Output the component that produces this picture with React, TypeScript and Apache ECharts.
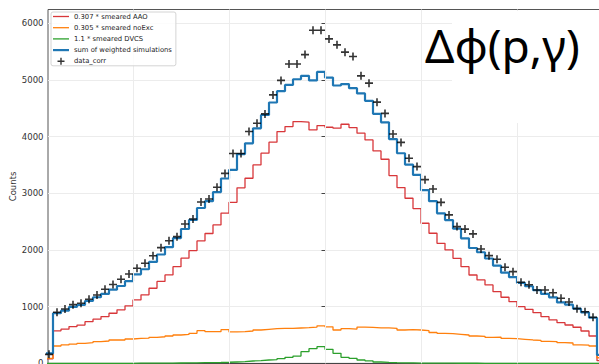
import React, { useEffect, useRef } from "react";
import * as echarts from "echarts";

// Histogram bins: bin k spans [BIN_START + k, BIN_START + k + 1] (one unit = one bin)
const BIN_START = -35;

// 0.307 * smeared AAO
const aao = [
  80, 575, 603, 650, 676, 735, 780, 826, 884, 945, 1015, 1120, 1210, 1325, 1445, 1560, 1705, 1855,
  1990, 2160, 2290, 2442, 2650, 2840, 3095, 3265, 3500, 3706, 3900, 4088, 4176, 4264, 4253, 4117,
  4193, 4164, 4147, 4217, 4158, 4059, 3941, 3747, 3600, 3311, 3100, 2912, 2730, 2471, 2295, 2118,
  2000, 1853, 1706, 1559, 1471, 1383, 1265, 1166, 1088, 1000, 954, 895, 824, 766, 718, 677, 637,
  571, 483, 48,
];

// 0.305 * smeared noExc
const noExc = [
  90, 307, 325, 340, 354, 365, 383, 395, 413, 413, 430, 442, 445, 460, 470, 483, 501, 510, 531, 577,
  560, 560, 595, 555, 560, 571, 589, 601, 612, 618, 618, 624, 630, 640, 662, 645, 589, 612, 605, 640,
  635, 628, 625, 618, 589, 595, 589, 577, 545, 531, 525, 513, 501, 483, 478, 460, 465, 442, 436, 425,
  413, 405, 390, 385, 366, 360, 325, 322, 307, 100,
];

// 1.1 * smeared DVCS
const dvcs = [
  0, 2, 2, 2, 2, 2, 2, 2, 2, 2, 2, 4, 4, 5, 5, 6, 7, 8, 10, 12, 14, 16, 20, 25, 30, 42, 50, 60, 65,
  83, 107, 130, 207, 260, 295, 248, 178, 107, 90, 60, 45, 25, 18, 12, 10, 8, 6, 5, 5, 4, 4, 3, 3, 3,
  2, 2, 2, 2, 2, 2, 2, 2, 2, 2, 2, 2, 2, 2, 2, 0,
];

// sum of weighted simulations
const weightedSum = [
  175, 884, 930, 995, 1030, 1100, 1166, 1225, 1300, 1365, 1450, 1570, 1660, 1790, 1920, 2050, 2210,
  2370, 2530, 2740, 2860, 3020, 3260, 3411, 3690, 3880, 4145, 4380, 4600, 4800, 4910, 5010, 5070,
  4990, 5140, 5040, 4900, 4925, 4852, 4760, 4630, 4400, 4250, 3955, 3705, 3505, 3323, 3055, 2860,
  2647, 2528, 2375, 2206, 2035, 1960, 1850, 1725, 1600, 1520, 1420, 1360, 1290, 1225, 1165, 1075,
  1035, 965, 900, 805, 150,
];

// data_corr (bin contents)
const dataCorr: (number | null)[] = [
  160, 901, 960, 1036, 1060, 1131, 1207, 1307, 1390, 1483, 1575, 1677, 1766, 1897, 2041, 2162, 2235,
  2459, 2545, 2845, 2900, 3106, 3350, 3700, 3700, 4090, 4235, 4399, 4734, 4990, 5280, 5280, 5445,
  5875, 5875, 5722, 5617, 5488, 5410, 5070, 4941, 4606, 4408, 4045, 3897, 3618, 3470, 3240, 3076,
  2840, 2618, 2412, 2368, 2283, 2018, 1900, 1836, 1695, 1618, 1431, 1388, 1295, 1295, 1247, 1148,
  1083, 965, 912, 813, null,
];

const seriesNames = [
  "0.307 * smeared AAO",
  "0.305 * smeared noExc",
  "1.1 * smeared DVCS",
  "sum of weighted simulations",
  "data_corr",
];

const yTicks = [0, 1000, 2000, 3000, 4000, 5000, 6000];
const xGridLines = [-24, -12, 0, 12, 24];
const annotation = "Δφ(p,γ)";

const COLORS = {
  aao: "#d8373a",
  noExc: "#ff800e",
  dvcs: "#2ca02c",
  sum: "#1f77b4",
  data: "#000000",
};

const PLUS = "path://M-4,-0.8H4V0.8H-4Z M-0.8,-4H0.8V4H-0.8Z";
const thinLine = "path://M0,0H16V1.3H0Z";
const thickLine = "path://M0,0H16V2.2H0Z";

// step outline: one point per left bin edge, plus the closing right edge
function stepPoints(values: number[]) {
  const pts = values.map((v, i) => [BIN_START + i, v]);
  pts.push([BIN_START + values.length, values[values.length - 1]]);
  return pts;
}

function centres(values: (number | null)[]) {
  const pts: number[][] = [];
  values.forEach((v, i) => {
    if (v !== null) pts.push([BIN_START + i + 0.5, v]);
  });
  return pts;
}

export default function App() {
  const ref = useRef<HTMLDivElement>(null);

  useEffect(() => {
    if (!ref.current) return;
    const chart = echarts.init(ref.current, undefined, { renderer: "svg" });

    const histLine = (name: string, values: number[], color: string, width: number, z: number) => ({
      name,
      type: "line",
      step: "end",
      data: stepPoints(values),
      showSymbol: false,
      symbol: "none",
      lineStyle: { color, width },
      itemStyle: { color },
      z,
      silent: true,
    });

    chart.setOption({
      animation: false,
      backgroundColor: "#ffffff",
      grid: {
        left: 48,
        right: -5,
        top: 9.5,
        bottom: 0.6,
        show: true,
        borderColor: "#555",
        borderWidth: 1,
        backgroundColor: "transparent",
        containLabel: false,
        outerBoundsMode: "none",
      },
      xAxis: {
        type: "value",
        min: -34.625,
        max: 34.875,
        axisLine: { show: true, lineStyle: { color: "#444", width: 1 } },
        axisTick: { show: false },
        axisLabel: { show: false },
        splitLine: { show: false },
      },
      yAxis: {
        type: "value",
        min: 0,
        max: 6240,
        interval: 1000,
        name: "Counts",
        nameLocation: "middle",
        nameGap: 31,
        nameMoveOverlap: false,
        nameTextStyle: { fontSize: 8.5, color: "#333", fontFamily: "DejaVu Sans" },
        axisLine: { show: true, lineStyle: { color: "#444", width: 1 } },
        axisTick: { show: true, length: 3.5, customValues: yTicks, lineStyle: { color: "#444" } },
        axisLabel: {
          fontSize: 8.5,
          color: "#333",
          fontFamily: "DejaVu Sans",
          margin: 4.5,
          customValues: yTicks,
          formatter: (v: number) => String(v),
        },
        splitLine: { show: true, lineStyle: { color: "#ececec", width: 1 } },
      },
      legend: {
        orient: "vertical",
        left: 51,
        top: 12,
        itemWidth: 16,
        itemHeight: 7,
        itemGap: 4.2,
        padding: [1, 4, 1, 2],
        borderColor: "#d4d4d4",
        borderWidth: 1,
        borderRadius: 2,
        backgroundColor: "rgba(255,255,255,0.85)",
        itemStyle: { borderWidth: 0 },
        textStyle: { fontSize: 6.8, color: "#222", fontFamily: "DejaVu Sans" },
        data: [
          { name: seriesNames[0], icon: thinLine },
          { name: seriesNames[1], icon: thinLine },
          { name: seriesNames[2], icon: thinLine },
          { name: seriesNames[3], icon: thickLine },
          { name: seriesNames[4], icon: PLUS },
        ],
        z: 50,
      },
      series: [
        {
          name: "grid-x",
          type: "line",
          data: [],
          z: 1,
          silent: true,
          markLine: {
            silent: true,
            symbol: ["none", "none"],
            label: { show: false },
            lineStyle: { color: "#ececec", width: 1, type: "solid" },
            data: xGridLines.map((x) => ({ xAxis: x })),
          },
        },
        histLine(seriesNames[0], aao, COLORS.aao, 1.3, 3),
        histLine(seriesNames[1], noExc, COLORS.noExc, 1.3, 3),
        histLine(seriesNames[2], dvcs, COLORS.dvcs, 1.3, 3),
        histLine(seriesNames[3], weightedSum, COLORS.sum, 2.2, 4),
        {
          name: seriesNames[4],
          type: "scatter",
          data: centres(dataCorr),
          symbol: PLUS,
          symbolSize: [8, 8],
          itemStyle: { color: COLORS.data },
          z: 5,
          silent: true,
        },
      ],
      graphic: [
        {
          type: "rect",
          left: 452,
          top: 11,
          shape: { width: 147, height: 112 },
          style: { fill: "#ffffff" },
          z: 100,
        },
        {
          type: "text",
          left: 425,
          top: 22,
          style: {
            text: annotation,
            fill: "#000",
            font: "46px 'Noto Sans'",
          },
          z: 101,
        },
      ],
    });

    return () => chart.dispose();
  }, []);

  return (
    <div
      ref={ref}
      style={{ position: "fixed", left: 0, top: 0, width: 599, height: 364, background: "#fff" }}
    />
  );
}
